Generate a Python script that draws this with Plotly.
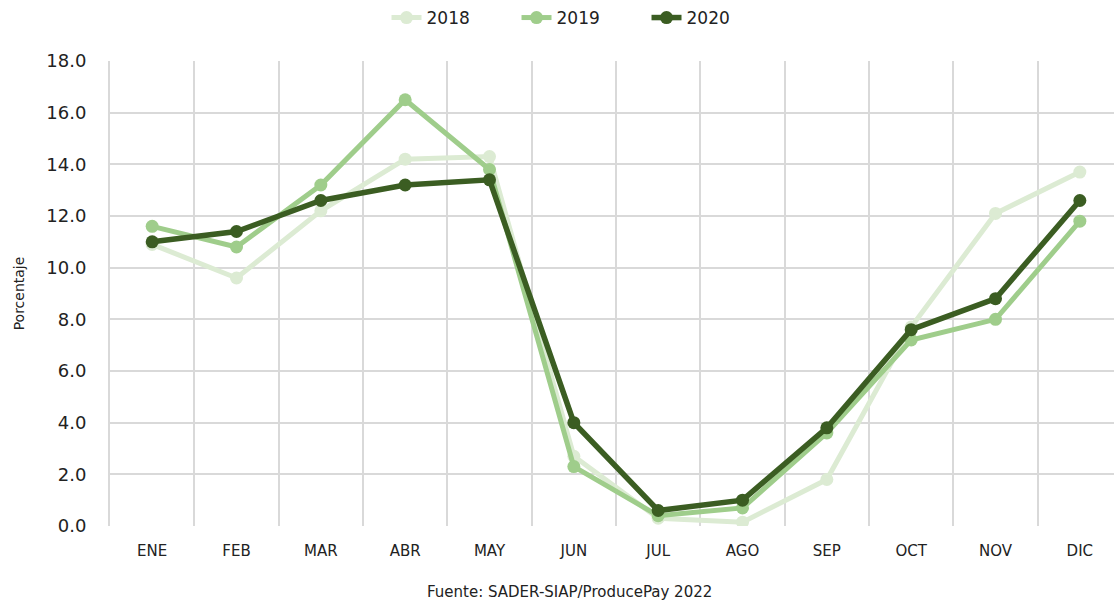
import plotly.graph_objects as go

months = ["ENE", "FEB", "MAR", "ABR", "MAY", "JUN", "JUL", "AGO", "SEP", "OCT", "NOV", "DIC"]
y2018 = [10.9, 9.6, 12.2, 14.2, 14.3, 2.7, 0.3, 0.15, 1.8, 7.7, 12.1, 13.7]
y2019 = [11.6, 10.8, 13.2, 16.5, 13.8, 2.3, 0.4, 0.7, 3.6, 7.2, 8.0, 11.8]
y2020 = [11.0, 11.4, 12.6, 13.2, 13.4, 4.0, 0.6, 1.0, 3.8, 7.6, 8.8, 12.6]

series = [
    ("2018", y2018, "#dcebd3", 5),
    ("2019", y2019, "#9fcd8b", 5),
    ("2020", y2020, "#3b5d22", 5.5),
]

fig = go.Figure()
for name, vals, color, w in series:
    fig.add_trace(go.Scatter(
        x=months, y=vals, name=name, mode="lines+markers",
        line=dict(color=color, width=w),
        marker=dict(color=color, size=13),
    ))

font_family = "DejaVu Sans, sans-serif"
fig.update_layout(
    width=1114, height=604,
    margin=dict(l=110, r=0, t=61, b=78),
    paper_bgcolor="white", plot_bgcolor="white",
    font=dict(family=font_family, color="#222222"),
    showlegend=True,
    legend=dict(orientation="h", xref="container", yref="container",
                x=0.522, xanchor="center", y=1.0, yanchor="top",
                font=dict(size=17), entrywidth=85, traceorder="normal"),
    xaxis=dict(type="category", range=[-0.5, 11.405], tickson="boundaries",
               showgrid=True, gridcolor="#d9d9d9", gridwidth=2,
               ticks="", ticklabelstandoff=14,
               tickfont=dict(size=15), showline=False,
               zeroline=False, fixedrange=True),
    yaxis=dict(range=[0, 18], dtick=2, tickformat=".1f",
               showgrid=True, gridcolor="#d9d9d9", gridwidth=2,
               tickfont=dict(size=18), ticks="outside", ticklen=18, tickcolor="white",
               title=dict(text="Porcentaje", font=dict(size=14), standoff=18),
               zeroline=False, showline=True, linecolor="#d9d9d9", linewidth=2),
    annotations=[dict(text="Fuente: SADER-SIAP/ProducePay 2022", xref="paper", yref="paper",
                      x=(569 - 110) / 1004, y=-(592 - 526) / 465, xanchor="center", yanchor="middle",
                      showarrow=False, font=dict(size=15, color="#222222"))],
)
fig.write_html("out.html")
